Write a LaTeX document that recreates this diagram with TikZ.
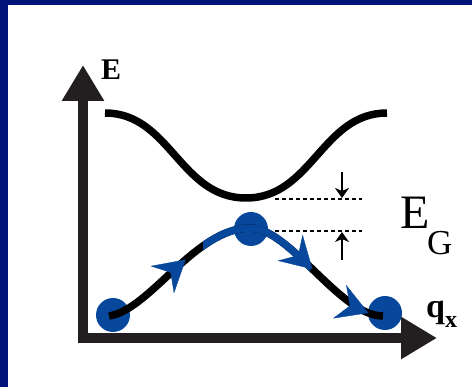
\documentclass[tikz,border=0pt]{standalone}
\usepackage{fontspec}
\setmainfont{Liberation Serif}
\usetikzlibrary{arrows.meta,decorations.markings}
\definecolor{frameblue}{RGB}{0,20,122}
\definecolor{dotblue}{RGB}{8,72,156}
\definecolor{axisgray}{RGB}{35,31,32}
\begin{document}
\begin{tikzpicture}[x=1pt,y=-1pt,
  axis/.style={line width=10pt, draw=axisgray, line join=miter,
    {Triangle[length=36pt,width=40pt,color=axisgray]}-{Triangle[length=36pt,width=40pt,color=axisgray]}},
  band/.style={line width=7.5pt, draw=black},
  gap/.style={line width=1.6pt, draw=black, dash pattern=on 4pt off 3pt},
  gaparrow/.style={line width=1.6pt, draw=black, -{Stealth[length=10pt,width=14pt,inset=3pt]}},
  dot/.style={fill=dotblue},
  flowtip/.style={},
  flow/.style={postaction={decorate}, decoration={markings,
    mark=at position 0.29 with {\arrow{Stealth[length=31pt,width=36pt,inset=11pt,color=dotblue]}},
    mark=at position 0.74 with {\arrow{Stealth[length=31pt,width=36pt,inset=11pt,color=dotblue]}},
    mark=at position 0.955 with {\arrow{Stealth[length=31pt,width=36pt,inset=11pt,color=dotblue]}}}}
]
\useasboundingbox (0,0) rectangle (472,387);
\fill[frameblue] (0,0) rectangle (472,5);
\fill[frameblue] (0,0) rectangle (8,387);
% axes
\coordinate (ytip) at (83,65);
\coordinate (origin) at (83,338);
\coordinate (xtip) at (437,338);
\draw[axis] (ytip) -- (origin) -- (xtip);
\node[font=\bfseries\fontsize{30}{30}\selectfont, anchor=base west, inner sep=0pt] (Elabel) at (101,80) {E};
\node[font=\bfseries\fontsize{34}{34}\selectfont, anchor=base west, inner sep=0pt] (qlabel) at (426,318) {q\raisebox{-10pt}{\fontsize{24}{24}\selectfont x}};
% upper band
\draw[band] (105,113) .. controls (170,113) and (180,198) .. (246,198)
  .. controls (312,198) and (322,113) .. (387,113);
% dots
\fill[dot] (113,315) circle (17);
\fill[dot] (251,229) circle (17);
\fill[dot] (385,313) circle (17);
% lower band
\draw[band] (109,316) .. controls (150,310) and (195,228) .. (250,228)
  .. controls (290,228) and (340,316) .. (383,316);
\begin{scope}
\clip (203,200) rectangle (310,290);
\draw[band, draw=dotblue] (109,316) .. controls (150,310) and (195,228) .. (250,228)
  .. controls (290,228) and (340,316) .. (383,316);
\end{scope}
\path[flow] (109,316) .. controls (150,310) and (195,228) .. (250,228)
  .. controls (290,228) and (340,316) .. (383,316);
% gap
\coordinate (c1a) at (275,199); \coordinate (c1b) at (362,199);
\coordinate (v1a) at (275,231); \coordinate (v1b) at (362,231);
\draw[gap] (c1a) -- (c1b);
\draw[gap] (v1a) -- (v1b);
\coordinate (d1) at (342,172); \coordinate (d2) at (342,198);
\coordinate (u1) at (342,260); \coordinate (u2) at (342,232);
\draw[gaparrow] (d1) -- (d2);
\draw[gaparrow] (u1) -- (u2);
\node[font=\fontsize{48}{48}\selectfont, anchor=base west, inner sep=0pt] (EG) at (400,229) {E};
\node[font=\fontsize{35}{35}\selectfont, anchor=base west, inner sep=0pt] (Gsub) at (427,255) {G};
\end{tikzpicture}
\end{document}
